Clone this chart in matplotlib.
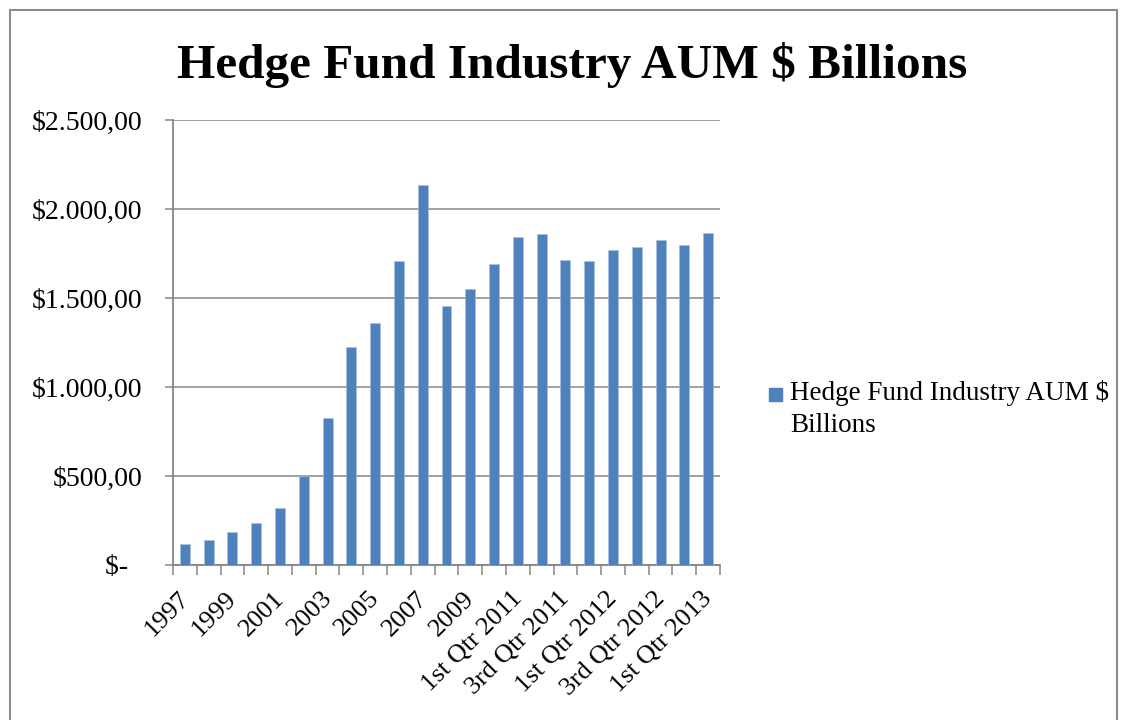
import matplotlib
matplotlib.use("Agg")
from matplotlib import pyplot as plt
from matplotlib.patches import Rectangle
from matplotlib.ticker import FixedLocator, FuncFormatter
from matplotlib.transforms import ScaledTranslation

# AUM by period, $ billions
periods = [
    "1997", "1998", "1999", "2000", "2001", "2002", "2003", "2004",
    "2005", "2006", "2007", "2008", "2009", "2010",
    "1st Qtr 2011", "2nd Qtr 2011", "3rd Qtr 2011", "4th Qtr 2011",
    "1st Qtr 2012", "2nd Qtr 2012", "3rd Qtr 2012", "4th Qtr 2012",
    "1st Qtr 2013",
]
aum = [
    118, 140, 186, 234, 318, 502, 824, 1227,
    1358, 1710, 2135, 1455, 1552, 1691,
    1843, 1861, 1713, 1706,
    1770, 1785, 1824, 1796,
    1863,
]
y_ticks = [0, 500, 1000, 1500, 2000, 2500]
series_name = "Hedge Fund Industry AUM $ Billions"

SERIF = ["Liberation Serif", "DejaVu Serif"]
BAR_COLOR = "#4F81BD"
GRID_COLOR = "#868686"
W, H = 1125, 720


def money(v, _pos=None):
    if v == 0:
        return "$-  "
    s = f"{v:,.2f}"
    s = s.replace(",", "X").replace(".", ",").replace("X", ".")
    return "$" + s


def main():
    plt.rcParams["font.family"] = SERIF
    fig = plt.figure(figsize=(W / 100, H / 100), dpi=100)

    # chart frame
    fig.patches.append(Rectangle((10 / W, -0.01), 1107 / W, 1.0 - 10 / H + 0.01,
                                 transform=fig.transFigure, fill=False,
                                 edgecolor="#8c8c8c", linewidth=1.5))

    ax = fig.add_axes([173 / W, 1 - 565 / H, 547 / W, 445 / H])
    x = list(range(len(periods)))
    ax.bar(x, aum, width=0.42, color=BAR_COLOR, edgecolor="#a9c1df",
           linewidth=0.4, zorder=3)

    ax.set_xlim(-0.5, len(periods) - 0.5)
    ax.set_ylim(0, 2500)
    ax.set_yticks(y_ticks)
    ax.yaxis.set_major_formatter(FuncFormatter(money))
    ax.grid(axis="y", color=GRID_COLOR, linewidth=1.1, zorder=0)
    ax.tick_params(axis="y", length=6, width=1.1, color=GRID_COLOR,
                   labelsize=20, pad=16)

    # category boundaries carry the tick marks, every other category gets a label
    ax.xaxis.set_minor_locator(FixedLocator([i - 0.5 for i in range(len(periods) + 1)]))
    ax.set_xticks(x[::2])
    ax.set_xticklabels(periods[::2], rotation=45, ha="right",
                       rotation_mode="anchor", fontsize=19)
    ax.tick_params(axis="x", which="major", length=0, pad=16)
    ax.tick_params(axis="x", which="minor", length=7, width=1.1, color=GRID_COLOR)
    shift = ScaledTranslation(-7 / 100, 0, fig.dpi_scale_trans)
    for lbl in ax.get_xticklabels():
        lbl.set_transform(lbl.get_transform() + shift)

    for side in ("top", "right"):
        ax.spines[side].set_visible(False)
    for side in ("left", "bottom"):
        ax.spines[side].set_color(GRID_COLOR)
        ax.spines[side].set_linewidth(1.3)

    fig.text(572 / W, 1 - 65 / H, series_name,
             ha="center", va="center", fontsize=35.5, fontweight="bold")

    # legend key, with the label wrapped over two lines
    fig.patches.append(Rectangle((769 / W, 1 - 401 / H), 13 / W, 13 / H,
                                 transform=fig.transFigure, color=BAR_COLOR))
    fig.text(790 / W, 1 - 380 / H, "Hedge Fund Industry AUM $\nBillions",
             ha="left", va="top", fontsize=19.5, linespacing=1.38)

    fig.savefig("out.png", dpi=100)


if __name__ == "__main__":
    main()
